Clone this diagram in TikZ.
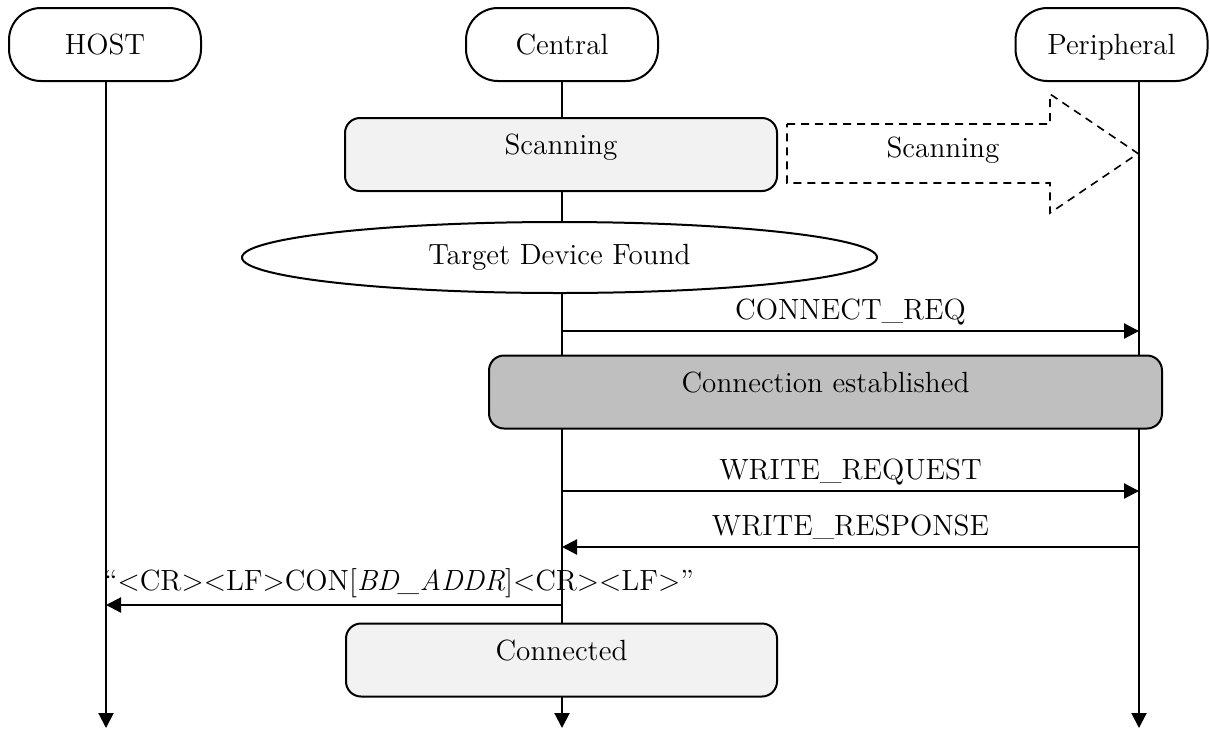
\documentclass[tikz,border=0pt]{standalone}
\usepackage{fontspec}
\usetikzlibrary{shapes.geometric,arrows.meta}
\begin{document}
\begin{tikzpicture}[x=0.5pt,y=-0.5pt,
    font=\fontsize{14.6}{17}\selectfont,
    head/.style={draw,line width=1pt,rounded corners=16pt,minimum width=96pt,minimum height=36.5pt,text depth=0pt,fill=white},
    state/.style={draw,line width=1pt,rounded corners=7.5pt,minimum height=36.5pt,text height=10pt,text depth=10pt,inner sep=0pt},
    life/.style={line width=1pt,-{Triangle[length=7.5pt,width=7.5pt]}},
    msg/.style={line width=1.1pt,-{Triangle[length=7.5pt,width=7.5pt]}},
    lbl/.style={midway,above=5pt,inner sep=0pt,text depth=0pt}]
  \useasboundingbox (0,0) rectangle (1210,729);
  % heads
  \node[head] (host) at (105,44.5) {HOST};
  \node[head] (central) at (562,44.5) {Central};
  \node[head] (peri) at (1111.5,44.5) {Peripheral};
  % lifelines
  \coordinate (hostEnd) at (106,728);
  \coordinate (centralEnd) at (562,728);
  \coordinate (periEnd) at (1139,728);
  \draw[life] (host.south -| hostEnd) -- (hostEnd);
  \draw[life] (central.south) -- (centralEnd);
  \draw[life] (peri.south -| periEnd) -- (periEnd);
  % scanning
  \node[state,fill=black!5,minimum width=216pt] (scan) at (561,154.5) {Scanning};
  \draw[line width=0.8pt,dash pattern=on 4pt off 3pt]
    (787,124) -- (1050,124) -- (1050,94) -- (1138,153.5)
    -- (1050,213) -- (1050,183) -- (787,183) -- cycle;
  \node (scanPeri) at (943,150) {Scanning};
  \node[draw,ellipse,fill=white,line width=1pt,minimum width=317.5pt,minimum height=35.5pt,inner sep=0pt] (found) at (559.5,257.5) {Target Device Found};
  % connect
  \coordinate (reqC) at (562,331);
  \coordinate (reqP) at (1139,331);
  \draw[msg] (reqC) -- (reqP) node[lbl] {CONNECT\_REQ};
  \node[state,fill=black!25,minimum width=336.5pt] (est) at (825.5,392) {Connection established};
  % write
  \coordinate (wrC) at (562,491);
  \coordinate (wrP) at (1139,491);
  \draw[msg] (wrC) -- (wrP) node[lbl] {WRITE\_REQUEST};
  \coordinate (wsP) at (1139,547);
  \coordinate (wsC) at (562,547);
  \draw[msg] (wsP) -- (wsC) node[lbl] {WRITE\_RESPONSE};
  % host notice
  \coordinate (conC) at (562,605);
  \coordinate (conH) at (106,605);
  \draw[msg] (conC) -- (conH) node[at end,anchor=south west,inner sep=0pt,text depth=0pt,yshift=6.5pt,xshift=-1.5pt]
    {``<CR><LF>CON[\textit{BD\_ADDR}]<CR><LF>''};
  \node[state,fill=black!5,minimum width=215.5pt] (done) at (561.5,660) {Connected};
\end{tikzpicture}
\end{document}
